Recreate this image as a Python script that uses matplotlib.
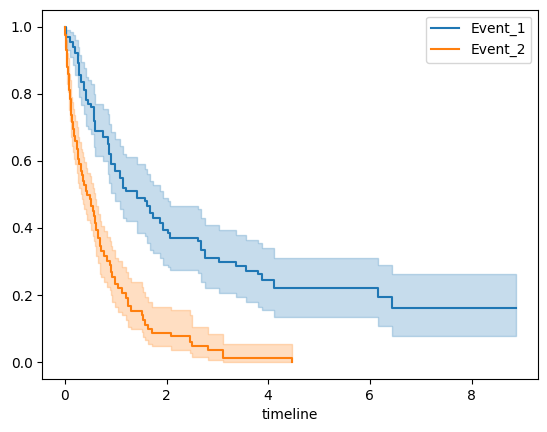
import matplotlib

matplotlib.use("Agg")
import matplotlib.pyplot as plt

# Event_1: step times, survival estimate and confidence band
t1 = [0.0, 0.03, 0.10, 0.16, 0.20, 0.25, 0.27, 0.31, 0.38, 0.41, 0.46, 0.52,
      0.58, 0.60, 0.75, 0.84, 0.87, 0.91, 0.99, 1.08, 1.15, 1.21, 1.41, 1.58,
      1.61, 1.67, 1.73, 1.88, 1.94, 2.03, 2.07, 2.61, 2.67, 2.75, 3.04, 3.37,
      3.57, 3.80, 3.87, 4.12, 6.16, 6.44, 8.87]
s1 = [1.0, 0.97, 0.955, 0.94, 0.92, 0.89, 0.855, 0.835, 0.81, 0.78, 0.77, 0.76,
      0.72, 0.69, 0.67, 0.65, 0.62, 0.59, 0.57, 0.55, 0.52, 0.51, 0.49, 0.48,
      0.465, 0.445, 0.43, 0.415, 0.395, 0.385, 0.37, 0.362, 0.335, 0.31, 0.299, 0.286,
      0.273, 0.262, 0.246, 0.22, 0.193, 0.16, 0.16]
lo1 = [1.0, 0.93, 0.91, 0.885, 0.855, 0.82, 0.79, 0.765, 0.74, 0.705, 0.695, 0.68,
       0.64, 0.615, 0.60, 0.56, 0.535, 0.505, 0.48, 0.455, 0.43, 0.42, 0.385, 0.375,
       0.355, 0.335, 0.325, 0.31, 0.29, 0.285, 0.275, 0.265, 0.24, 0.22, 0.205, 0.195,
       0.18, 0.165, 0.155, 0.135, 0.107, 0.077, 0.077]
hi1 = [1.0, 0.99, 0.985, 0.975, 0.96, 0.94, 0.915, 0.895, 0.875, 0.85, 0.84, 0.83,
       0.80, 0.77, 0.755, 0.74, 0.71, 0.685, 0.665, 0.645, 0.62, 0.61, 0.59, 0.575,
       0.56, 0.54, 0.527, 0.51, 0.49, 0.48, 0.465, 0.455, 0.43, 0.41, 0.395, 0.38,
       0.365, 0.355, 0.34, 0.31, 0.289, 0.264, 0.264]

# Event_2
t2 = [0.0, 0.01, 0.02, 0.03, 0.05, 0.06, 0.08, 0.09, 0.10, 0.12, 0.13, 0.15,
      0.16, 0.18, 0.20, 0.23, 0.26, 0.28, 0.31, 0.33, 0.36, 0.38, 0.41, 0.43,
      0.49, 0.52, 0.56, 0.58, 0.60, 0.62, 0.65, 0.69, 0.72, 0.77, 0.83, 0.89,
      0.90, 0.92, 0.99, 1.05, 1.12, 1.21, 1.25, 1.31, 1.51, 1.54, 1.58, 1.64,
      1.71, 2.09, 2.46, 2.50, 2.82, 3.11, 4.47]
s2 = [1.0, 0.975, 0.95, 0.93, 0.88, 0.86, 0.835, 0.81, 0.785, 0.76, 0.735, 0.715,
      0.695, 0.675, 0.66, 0.636, 0.606, 0.59, 0.57, 0.557, 0.54, 0.527, 0.51, 0.497,
      0.487, 0.464, 0.45, 0.435, 0.415, 0.393, 0.37, 0.345, 0.33, 0.315, 0.30, 0.29,
      0.27, 0.254, 0.234, 0.22, 0.205, 0.19, 0.167, 0.153, 0.14, 0.125, 0.11, 0.10,
      0.087, 0.077, 0.059, 0.047, 0.036, 0.013, 0.0]
lo2 = [1.0, 0.94, 0.91, 0.885, 0.83, 0.805, 0.775, 0.75, 0.72, 0.695, 0.67, 0.645,
       0.625, 0.605, 0.59, 0.565, 0.535, 0.52, 0.50, 0.485, 0.47, 0.455, 0.44, 0.425,
       0.415, 0.393, 0.375, 0.36, 0.345, 0.315, 0.295, 0.264, 0.255, 0.24, 0.225, 0.215,
       0.20, 0.18, 0.165, 0.15, 0.14, 0.125, 0.105, 0.10, 0.09, 0.075, 0.065, 0.055,
       0.048, 0.036, 0.026, 0.016, 0.008, 0.001, 0.001]
hi2 = [1.0, 0.99, 0.975, 0.96, 0.92, 0.905, 0.885, 0.86, 0.84, 0.815, 0.79, 0.775,
       0.755, 0.735, 0.72, 0.70, 0.67, 0.655, 0.635, 0.625, 0.61, 0.595, 0.58, 0.565,
       0.555, 0.535, 0.52, 0.505, 0.485, 0.465, 0.44, 0.42, 0.405, 0.39, 0.373, 0.36,
       0.345, 0.333, 0.31, 0.30, 0.285, 0.27, 0.25, 0.24, 0.225, 0.21, 0.195, 0.18,
       0.165, 0.155, 0.14, 0.105, 0.085, 0.054, 0.054]

series = [("Event_1", t1, s1, lo1, hi1, "#1f77b4"),
          ("Event_2", t2, s2, lo2, hi2, "#ff7f0e")]

fig = plt.figure(figsize=(5.47, 4.32), dpi=100)
ax = fig.add_axes([0.0773, 0.1227, 0.9068, 0.8548])

for label, t, s, lo, hi, color in series:
    ax.fill_between(t, lo, hi, step="post", color=color, alpha=0.25, linewidth=1.0)
    ax.step(t, s, where="post", color=color, label=label, linewidth=1.5)

ax.set_xlabel("timeline")
ax.legend(loc="upper right")
fig.savefig("out.png", dpi=100)
